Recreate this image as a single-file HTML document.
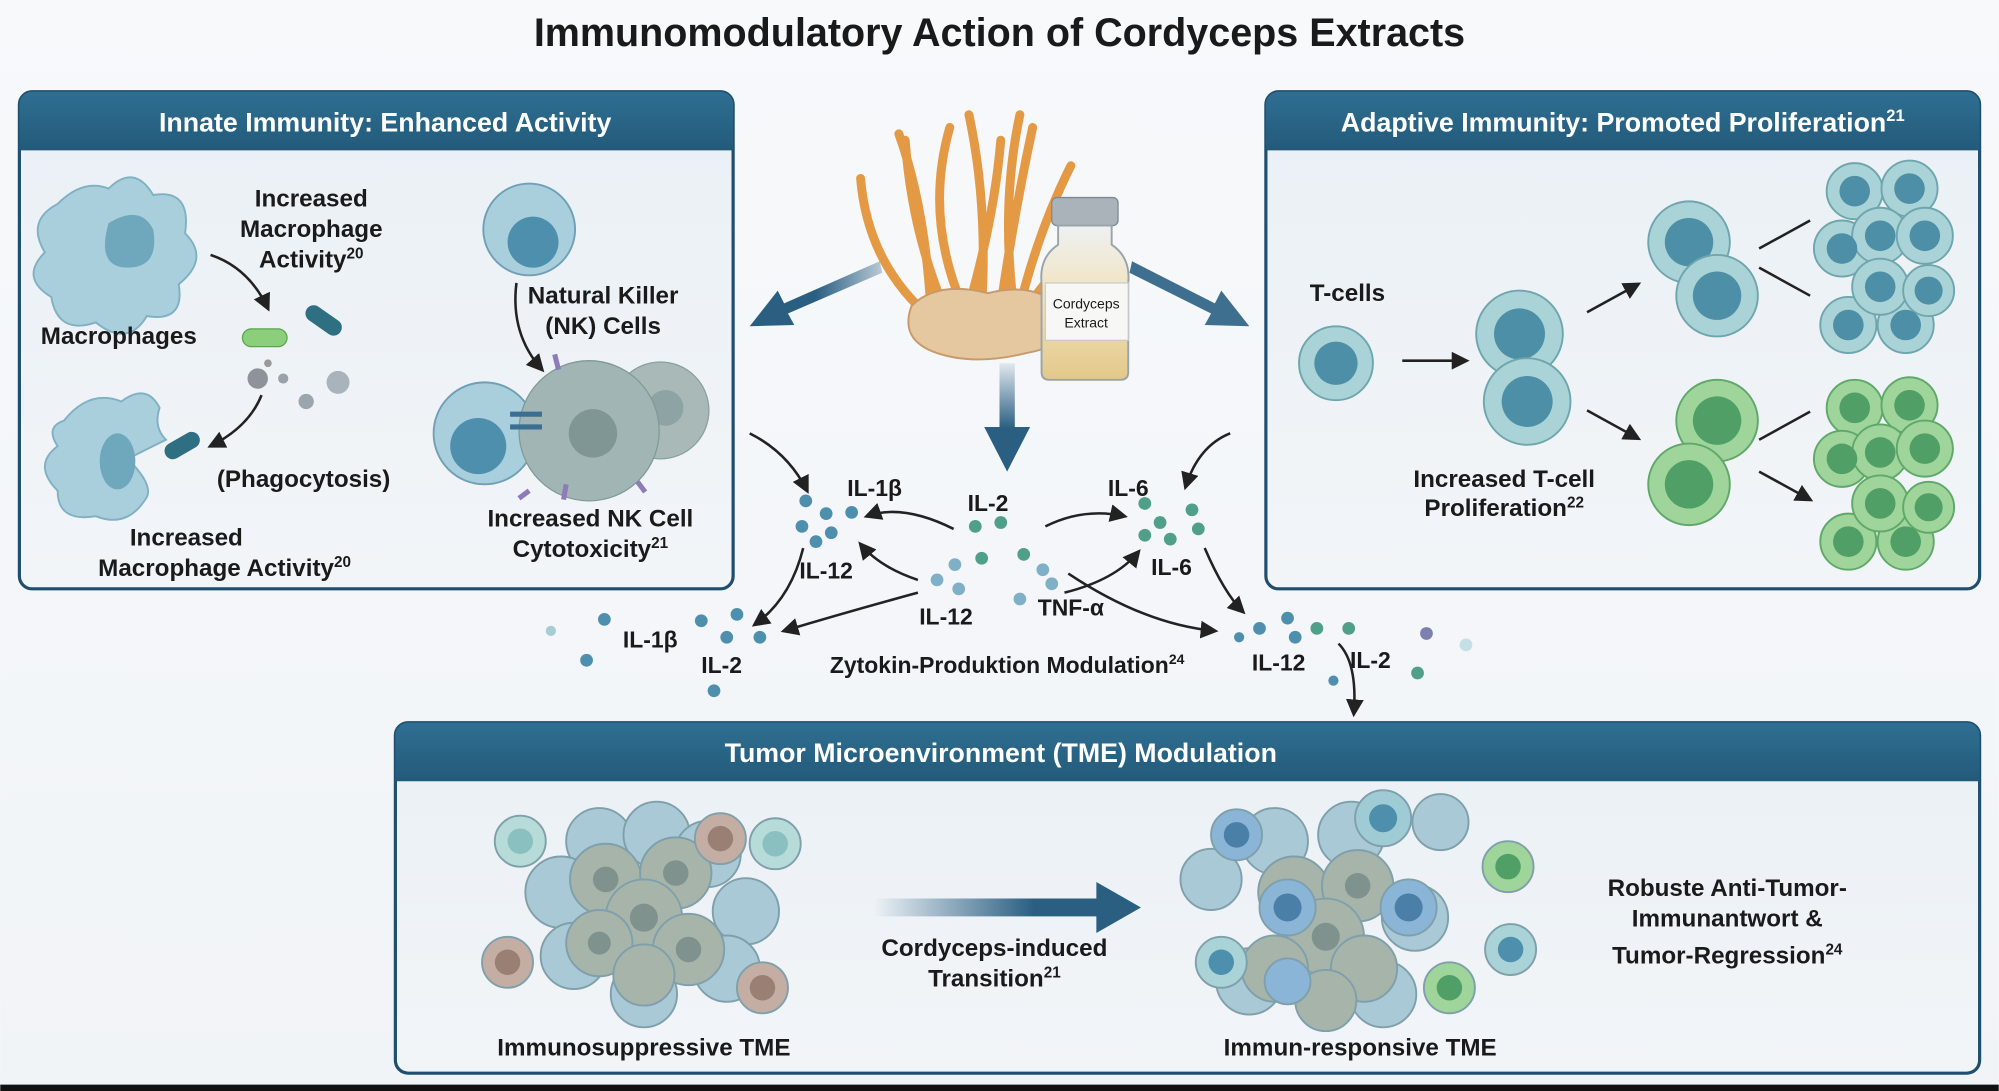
<!DOCTYPE html>
<html><head><meta charset="utf-8"><style>
html,body{margin:0;padding:0;background:#f6f8fa;}
svg{display:block;}
text{font-family:"Liberation Sans",sans-serif;font-weight:bold;fill:#1a1a1a;}
.h{fill:#fff;font-size:21px;}
.l{font-size:19px;}
.c{font-size:18px;}
</style></head><body>
<svg width="1999" height="1091" viewBox="0 0 1568 856" xmlns="http://www.w3.org/2000/svg">
<defs>
<linearGradient id="bg" x1="0" y1="0" x2="0" y2="1"><stop offset="0" stop-color="#f7f9fb"/><stop offset="1" stop-color="#f1f4f7"/></linearGradient>
<linearGradient id="hd" x1="0" y1="0" x2="0" y2="1"><stop offset="0" stop-color="#2f6f92"/><stop offset="1" stop-color="#235a7a"/></linearGradient>
<linearGradient id="pn" x1="0" y1="0" x2="0" y2="1"><stop offset="0" stop-color="#eaf0f5"/><stop offset="1" stop-color="#f2f5f8"/></linearGradient>
<linearGradient id="ar" x1="0" y1="0" x2="1" y2="0"><stop offset="0" stop-color="#2a5f82" stop-opacity="0"/><stop offset="0.6" stop-color="#2a5f82"/></linearGradient>
<linearGradient id="arl" x1="1" y1="0" x2="0" y2="0"><stop offset="0" stop-color="#2a5f82" stop-opacity="0.3"/><stop offset="0.5" stop-color="#2a5f82"/></linearGradient>
<linearGradient id="av" x1="0" y1="0" x2="0" y2="1"><stop offset="0" stop-color="#2a5f82" stop-opacity="0.1"/><stop offset="0.6" stop-color="#2a5f82"/></linearGradient>
<linearGradient id="vial" x1="0" y1="0" x2="0" y2="1"><stop offset="0" stop-color="#eef1f3"/><stop offset="0.5" stop-color="#f1e2b8"/><stop offset="1" stop-color="#e3c88b"/></linearGradient>
<marker id="m" viewBox="0 0 10 10" refX="8" refY="5" markerWidth="7" markerHeight="7" orient="auto"><path d="M0,0 L10,5 L0,10 z" fill="#222"/></marker>
</defs>
<rect width="1568" height="856" fill="url(#bg)"/>
<rect y="851" width="1568" height="5" fill="#111"/>
<text x="784" y="36" text-anchor="middle" style="font-size:31px">Immunomodulatory Action of Cordyceps Extracts</text>

<!-- Left panel -->
<rect x="15" y="72" width="560" height="390" rx="10" fill="url(#pn)" stroke="#1f4e6e" stroke-width="2.5"/>
<path d="M15,118 V82 a10,10 0 0 1 10,-10 H565 a10,10 0 0 1 10,10 V118 z" fill="url(#hd)"/>
<text class="h" x="302" y="103" text-anchor="middle">Innate Immunity: Enhanced Activity</text>
<path d="M45,160 q20,-20 40,-12 q20,-20 35,5 q30,-5 25,30 q20,20 -5,40 q5,30 -25,25 q-15,25 -40,5 q-30,10 -35,-20 q-25,-15 -5,-35 q-15,-25 10,-38z" fill="#a9cfdc" stroke="#7fb0c3" stroke-width="1.5"/>
<path d="M85,175 q25,-15 35,5 q5,30 -20,30 q-25,0 -15,-35z" fill="#6fa7bd"/>
<text class="l" x="93" y="270" text-anchor="middle">Macrophages</text>
<text class="l" x="244" y="162" text-anchor="middle">Increased</text>
<text class="l" x="244" y="186" text-anchor="middle">Macrophage</text>
<text class="l" x="244" y="210" text-anchor="middle">Activity<tspan font-size="12" dy="-7">20</tspan></text>
<path d="M165,200 q30,10 45,42" fill="none" stroke="#222" stroke-width="2" marker-end="url(#m)"/>
<rect x="190" y="258" width="35" height="14" rx="7" fill="#8ccf7a" stroke="#5aa64a"/>
<rect x="238" y="245" width="32" height="13" rx="6.5" fill="#2f6f82" transform="rotate(35 254 251)"/>
<circle cx="202" cy="297" r="8" fill="#8d9399"/><circle cx="222" cy="297" r="4" fill="#9aa1a8"/><circle cx="240" cy="315" r="6" fill="#9aa5ad"/><circle cx="265" cy="300" r="9" fill="#a8b3bb"/><circle cx="210" cy="285" r="3" fill="#999"/>
<path d="M205,310 q-10,25 -40,40" fill="none" stroke="#222" stroke-width="2" marker-end="url(#m)"/>
<path d="M50,330 q20,-25 45,-15 q20,-15 30,5 q-5,15 5,25 l-30,15 q20,20 15,30 q-15,25 -40,15 q-30,5 -30,-20 q-20,-20 0,-35 q-10,-15 5,-20z" fill="#a9cfdc" stroke="#7fb0c3" stroke-width="1.5"/>
<ellipse cx="92" cy="362" rx="14" ry="22" fill="#6fa7bd"/>
<rect x="128" y="343" width="30" height="13" rx="6.5" fill="#2f6f82" transform="rotate(-30 143 350)"/>
<text class="l" x="238" y="382" text-anchor="middle">(Phagocytosis)</text>
<text class="l" x="146" y="428" text-anchor="middle">Increased</text>
<text class="l" x="176" y="452" text-anchor="middle">Macrophage Activity<tspan font-size="12" dy="-7">20</tspan></text>
<circle cx="415" cy="180" r="36" fill="#a9cfdc" stroke="#6fa0b8" stroke-width="1.5"/><circle cx="418" cy="190" r="20" fill="#4f8fae"/>
<text class="l" x="473" y="238" text-anchor="middle">Natural Killer</text>
<text class="l" x="473" y="262" text-anchor="middle">(NK) Cells</text>
<path d="M405,222 q-5,40 20,68" fill="none" stroke="#222" stroke-width="2" marker-end="url(#m)"/>
<circle cx="380" cy="340" r="40" fill="#a9cfdc" stroke="#6fa0b8" stroke-width="1.5"/><circle cx="375" cy="350" r="22" fill="#4f8fae"/>
<circle cx="518" cy="322" r="38" fill="#a8b9b8" stroke="#8aa0a0"/><circle cx="522" cy="320" r="14" fill="#8ea3a3"/>
<circle cx="462" cy="338" r="55" fill="#a1b5b4" stroke="#819998"/><circle cx="465" cy="340" r="19" fill="#7f9695"/>
<path d="M400,325 h25 M400,335 h25" stroke="#3a6f92" stroke-width="4"/>
<path d="M438,290 l-3,-12 M444,380 l-2,12 M415,385 l-8,6 M500,378 l6,8" stroke="#8e7cb8" stroke-width="4"/>
<text class="l" x="463" y="413" text-anchor="middle">Increased NK Cell</text>
<text class="l" x="463" y="437" text-anchor="middle">Cytotoxicity<tspan font-size="12" dy="-7">21</tspan></text>

<!-- Right panel -->
<rect x="993" y="72" width="560" height="390" rx="10" fill="url(#pn)" stroke="#1f4e6e" stroke-width="2.5"/>
<path d="M993,118 V82 a10,10 0 0 1 10,-10 H1543 a10,10 0 0 1 10,10 V118 z" fill="url(#hd)"/>
<text class="h" x="1273" y="103" text-anchor="middle">Adaptive Immunity: Promoted Proliferation<tspan font-size="13" dy="-8">21</tspan></text>
<text class="l" x="1057" y="236" text-anchor="middle">T-cells</text>
<circle cx="1048" cy="285" r="29" fill="#a9d3d6" stroke="#6fa6ae" stroke-width="1.5"/><circle cx="1048" cy="285" r="17" fill="#4d8fa6"/>
<path d="M1100,283 h50" stroke="#222" stroke-width="2" marker-end="url(#m)"/>
<circle cx="1192" cy="262" r="34" fill="#a9d3d6" stroke="#6fa6ae" stroke-width="1.5"/><circle cx="1192" cy="262" r="20" fill="#4d8fa6"/>
<circle cx="1198" cy="315" r="34" fill="#a9d3d6" stroke="#6fa6ae" stroke-width="1.5"/><circle cx="1198" cy="315" r="20" fill="#4d8fa6"/>
<text class="l" x="1180" y="382" text-anchor="middle">Increased T-cell</text>
<text class="l" x="1180" y="405" text-anchor="middle">Proliferation<tspan font-size="12" dy="-7">22</tspan></text>
<path d="M1245,245 l40,-22" stroke="#222" stroke-width="2" marker-end="url(#m)"/>
<path d="M1245,322 l40,22" stroke="#222" stroke-width="2" marker-end="url(#m)"/>
<circle cx="1325" cy="190" r="32" fill="#a9d3d6" stroke="#6fa6ae" stroke-width="1.5"/><circle cx="1325" cy="190" r="19" fill="#4d8fa6"/>
<circle cx="1347" cy="232" r="32" fill="#a9d3d6" stroke="#6fa6ae" stroke-width="1.5"/><circle cx="1347" cy="232" r="19" fill="#4d8fa6"/>
<circle cx="1347" cy="330" r="32" fill="#9fd49a" stroke="#5fa86a" stroke-width="1.5"/><circle cx="1347" cy="330" r="19" fill="#4f9f66"/>
<circle cx="1325" cy="380" r="32" fill="#9fd49a" stroke="#5fa86a" stroke-width="1.5"/><circle cx="1325" cy="380" r="19" fill="#4f9f66"/>
<path d="M1380,195 l40,-22 M1380,210 l40,22 M1380,345 l40,-22 M1380,370 l40,22" stroke="#222" stroke-width="2" marker-end="url(#m)"/>
<g fill="#a9d3d6" stroke="#6fa6ae" stroke-width="1.5">
<circle cx="1455" cy="150" r="22"/><circle cx="1498" cy="148" r="22"/><circle cx="1445" cy="195" r="22"/><circle cx="1475" cy="185" r="22"/><circle cx="1510" cy="185" r="22"/><circle cx="1450" cy="255" r="22"/><circle cx="1495" cy="255" r="22"/><circle cx="1475" cy="225" r="22"/><circle cx="1513" cy="228" r="20"/></g>
<g fill="#4d8fa6"><circle cx="1455" cy="150" r="12"/><circle cx="1498" cy="148" r="12"/><circle cx="1445" cy="195" r="12"/><circle cx="1475" cy="185" r="12"/><circle cx="1510" cy="185" r="12"/><circle cx="1450" cy="255" r="12"/><circle cx="1495" cy="255" r="12"/><circle cx="1475" cy="225" r="12"/><circle cx="1513" cy="228" r="11"/></g>
<g fill="#9fd49a" stroke="#5fa86a" stroke-width="1.5">
<circle cx="1455" cy="320" r="22"/><circle cx="1498" cy="318" r="22"/><circle cx="1445" cy="360" r="22"/><circle cx="1475" cy="355" r="22"/><circle cx="1510" cy="352" r="22"/><circle cx="1450" cy="425" r="22"/><circle cx="1495" cy="425" r="22"/><circle cx="1475" cy="395" r="22"/><circle cx="1513" cy="398" r="20"/></g>
<g fill="#4f9f66"><circle cx="1455" cy="320" r="12"/><circle cx="1498" cy="318" r="12"/><circle cx="1445" cy="360" r="12"/><circle cx="1475" cy="355" r="12"/><circle cx="1510" cy="352" r="12"/><circle cx="1450" cy="425" r="12"/><circle cx="1495" cy="425" r="12"/><circle cx="1475" cy="395" r="12"/><circle cx="1513" cy="398" r="11"/></g>

<!-- Center cordyceps -->
<g fill="none" stroke="#e49a45" stroke-width="7" stroke-linecap="round">
<path d="M740,240 q-25,-60 -30,-130"/><path d="M755,240 q-30,-70 -10,-140"/><path d="M770,240 q5,-80 -10,-150"/><path d="M785,240 q10,-70 25,-140"/><path d="M800,240 q15,-60 40,-110"/><path d="M720,240 q-40,-40 -45,-100"/><path d="M760,240 q20,-70 25,-130"/><path d="M810,235 q30,-40 50,-55"/><path d="M730,240 q-5,-80 -25,-135"/><path d="M795,240 q-10,-80 5,-150"/>
</g>
<path d="M715,240 q20,-20 60,-10 q40,-10 60,15 q10,25 -30,32 q-40,10 -70,0 q-30,-10 -20,-37z" fill="#e5c7a0" stroke="#c89a6b" stroke-width="1.5"/>
<rect x="825" y="155" width="52" height="22" rx="4" fill="#aab3ba" stroke="#7d8a94"/>
<path d="M830,177 h42 v15 q15,10 13,30 v70 q0,6 -6,6 h-56 q-6,0 -6,-6 v-70 q-2,-20 13,-30z" fill="url(#vial)" stroke="#9aa3a9" stroke-width="1.5"/>
<rect x="820" y="222" width="65" height="45" fill="#f7f7f5" stroke="#ccc"/>
<text x="852" y="242" text-anchor="middle" style="font-size:11px;font-weight:normal">Cordyceps</text>
<text x="852" y="257" text-anchor="middle" style="font-size:11px;font-weight:normal">Extract</text>
<path d="M690,205 L615,238 L610,228 L588,256 L623,255 L618,246 L692,214z" fill="url(#arl)"/>
<path d="M888,205 L953,238 L958,228 L980,256 L945,255 L950,246 L886,214z" fill="#2a5f82" opacity="0.9"/>
<path d="M784,285 h12 v50 h12 l-18,35 l-18,-35 h12z" fill="url(#av)"/>

<!-- Cytokines -->
<g fill="#4f8fae"><circle cx="632" cy="393" r="5"/><circle cx="648" cy="403" r="5"/><circle cx="629" cy="413" r="5"/><circle cx="652" cy="418" r="5"/><circle cx="668" cy="402" r="5"/><circle cx="640" cy="425" r="5"/></g>
<g fill="#4f9f8a"><circle cx="765" cy="413" r="5"/><circle cx="785" cy="410" r="5"/><circle cx="770" cy="438" r="5"/><circle cx="803" cy="435" r="5"/><circle cx="898" cy="395" r="5"/><circle cx="910" cy="410" r="5"/><circle cx="935" cy="400" r="5"/><circle cx="898" cy="420" r="5"/><circle cx="918" cy="423" r="5"/><circle cx="940" cy="415" r="5"/></g>
<g fill="#7fb0c8"><circle cx="735" cy="455" r="5"/><circle cx="749" cy="443" r="5"/><circle cx="752" cy="462" r="5"/><circle cx="818" cy="447" r="5"/><circle cx="825" cy="458" r="5"/><circle cx="800" cy="470" r="5"/></g>
<g fill="#4f8fae"><circle cx="432" cy="495" r="4" fill="#a8ccd4"/><circle cx="460" cy="518" r="5"/><circle cx="474" cy="486" r="5"/><circle cx="550" cy="487" r="5"/><circle cx="578" cy="482" r="5"/><circle cx="570" cy="500" r="5"/><circle cx="596" cy="500" r="5"/><circle cx="560" cy="542" r="5"/><circle cx="988" cy="493" r="5"/><circle cx="1010" cy="485" r="5"/><circle cx="1016" cy="500" r="5"/><circle cx="1033" cy="493" r="5" fill="#4f9f8a"/><circle cx="1058" cy="493" r="5" fill="#4f9f8a"/><circle cx="972" cy="500" r="4"/><circle cx="1119" cy="497" r="5" fill="#7c7fb0"/><circle cx="1150" cy="506" r="5" fill="#c6dfe6"/><circle cx="1112" cy="528" r="5" fill="#4f9f8a"/><circle cx="1046" cy="534" r="4"/></g>
<text class="c" x="686" y="389" text-anchor="middle">IL-1β</text>
<text class="c" x="775" y="401" text-anchor="middle">IL-2</text>
<text class="c" x="885" y="389" text-anchor="middle">IL-6</text>
<text class="c" x="648" y="454" text-anchor="middle">IL-12</text>
<text class="c" x="919" y="451" text-anchor="middle">IL-6</text>
<text class="c" x="742" y="490" text-anchor="middle">IL-12</text>
<text class="c" x="840" y="483" text-anchor="middle">TNF-α</text>
<text class="c" x="510" y="508" text-anchor="middle">IL-1β</text>
<text class="c" x="566" y="528" text-anchor="middle">IL-2</text>
<text class="c" x="790" y="528" text-anchor="middle">Zytokin-Produktion Modulation<tspan font-size="11" dy="-7">24</tspan></text>
<text class="c" x="1003" y="526" text-anchor="middle">IL-12</text>
<text class="c" x="1075" y="524" text-anchor="middle">IL-2</text>
<g fill="none" stroke="#222" stroke-width="2" marker-end="url(#m)">
<path d="M588,340 q30,15 45,45"/><path d="M748,415 q-40,-20 -68,-10"/><path d="M720,455 q-30,-10 -45,-28"/><path d="M820,413 q30,-15 62,-8"/><path d="M835,465 q40,-10 58,-32"/><path d="M965,340 q-25,10 -35,42"/><path d="M630,430 q-10,40 -38,60"/><path d="M720,465 q-55,15 -105,30"/><path d="M838,450 q60,40 115,45"/><path d="M945,430 q15,35 30,50"/><path d="M1050,505 q15,15 12,55"/>
</g>

<!-- Bottom panel -->
<rect x="310" y="567" width="1243" height="275" rx="10" fill="url(#pn)" stroke="#1f4e6e" stroke-width="2.5"/>
<path d="M310,613 V577 a10,10 0 0 1 10,-10 H1543 a10,10 0 0 1 10,10 V613 z" fill="url(#hd)"/>
<text class="h" x="785" y="598" text-anchor="middle">Tumor Microenvironment (TME) Modulation</text>
<g stroke="#7fa0ab" stroke-width="1.5">
<circle cx="470" cy="660" r="26" fill="#a9c9d6"/><circle cx="515" cy="655" r="26" fill="#a9c9d6"/><circle cx="555" cy="670" r="26" fill="#a9c9d6"/><circle cx="440" cy="700" r="28" fill="#a9c9d6"/><circle cx="585" cy="715" r="26" fill="#a9c9d6"/><circle cx="450" cy="750" r="26" fill="#a9c9d6"/><circle cx="570" cy="760" r="26" fill="#a9c9d6"/><circle cx="505" cy="780" r="26" fill="#a9c9d6"/>
<circle cx="475" cy="690" r="28" fill="#a6b4aa"/><circle cx="530" cy="685" r="28" fill="#a6b4aa"/><circle cx="505" cy="720" r="30" fill="#a6b4aa"/><circle cx="470" cy="740" r="26" fill="#a6b4aa"/><circle cx="540" cy="745" r="28" fill="#a6b4aa"/><circle cx="505" cy="765" r="24" fill="#a6b4aa"/>
<circle cx="408" cy="660" r="20" fill="#b6dbd8"/><circle cx="608" cy="662" r="20" fill="#b6dbd8"/><circle cx="565" cy="658" r="20" fill="#c4aea4"/><circle cx="398" cy="755" r="20" fill="#c4aea4"/><circle cx="598" cy="775" r="20" fill="#c4aea4"/></g>
<g fill="#7f928e"><circle cx="475" cy="690" r="10"/><circle cx="530" cy="685" r="10"/><circle cx="505" cy="720" r="11"/><circle cx="470" cy="740" r="9"/><circle cx="540" cy="745" r="10"/><circle cx="408" cy="660" r="10" fill="#8ac0c0"/><circle cx="608" cy="662" r="10" fill="#8ac0c0"/><circle cx="565" cy="658" r="10" fill="#9a7f75"/><circle cx="398" cy="755" r="10" fill="#9a7f75"/><circle cx="598" cy="775" r="10" fill="#9a7f75"/></g>
<text class="l" x="505" y="828" text-anchor="middle">Immunosuppressive TME</text>
<path d="M685,705 H860 V692 L895,712 L860,732 V719 H685z" fill="url(#ar)"/>
<text class="l" x="780" y="750" text-anchor="middle">Cordyceps-induced</text>
<text class="l" x="780" y="774" text-anchor="middle">Transition<tspan font-size="12" dy="-7">21</tspan></text>
<g stroke="#7fa0ab" stroke-width="1.5">
<circle cx="1000" cy="660" r="26" fill="#a9c9d6"/><circle cx="1060" cy="655" r="26" fill="#a9c9d6"/><circle cx="1130" cy="645" r="22" fill="#a9c9d6"/><circle cx="950" cy="690" r="24" fill="#a9c9d6"/><circle cx="1110" cy="720" r="26" fill="#a9c9d6"/><circle cx="980" cy="770" r="26" fill="#a9c9d6"/><circle cx="1085" cy="780" r="26" fill="#a9c9d6"/>
<circle cx="1015" cy="700" r="28" fill="#a6b4aa"/><circle cx="1065" cy="695" r="28" fill="#a6b4aa"/><circle cx="1040" cy="735" r="30" fill="#a6b4aa"/><circle cx="1000" cy="760" r="26" fill="#a6b4aa"/><circle cx="1070" cy="760" r="26" fill="#a6b4aa"/><circle cx="1040" cy="785" r="24" fill="#a6b4aa"/>
<circle cx="970" cy="655" r="20" fill="#8ab5d6"/><circle cx="1085" cy="642" r="22" fill="#9fcbd4"/><circle cx="1010" cy="712" r="22" fill="#8ab5d6"/><circle cx="1105" cy="712" r="22" fill="#8ab5d6"/><circle cx="1183" cy="680" r="20" fill="#9fd49a"/><circle cx="1185" cy="745" r="20" fill="#a9d3d6"/><circle cx="1137" cy="775" r="20" fill="#9fd49a"/><circle cx="958" cy="755" r="20" fill="#a9d3d6"/><circle cx="1010" cy="770" r="18" fill="#8ab5d6"/></g>
<g fill="#4a7fa8"><circle cx="970" cy="655" r="10"/><circle cx="1085" cy="642" r="11" fill="#4f8fae"/><circle cx="1010" cy="712" r="11"/><circle cx="1105" cy="712" r="11"/><circle cx="1183" cy="680" r="10" fill="#4f9f66"/><circle cx="1185" cy="745" r="10" fill="#4f8fae"/><circle cx="1137" cy="775" r="10" fill="#4f9f66"/><circle cx="958" cy="755" r="10" fill="#4f8fae"/><circle cx="1040" cy="735" r="11" fill="#7f928e"/><circle cx="1065" cy="695" r="10" fill="#7f928e"/></g>
<text class="l" x="1067" y="828" text-anchor="middle">Immun-responsive TME</text>
<text class="l" x="1355" y="703" text-anchor="middle">Robuste Anti-Tumor-</text>
<text class="l" x="1355" y="727" text-anchor="middle">Immunantwort &amp;</text>
<text class="l" x="1355" y="756" text-anchor="middle">Tumor-Regression<tspan font-size="12" dy="-7">24</tspan></text>
</svg>
</body></html>
